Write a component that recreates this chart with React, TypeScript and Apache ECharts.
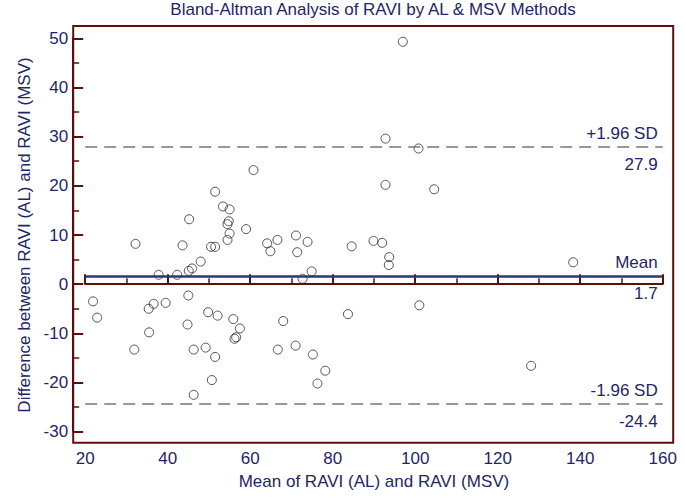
import React, { useEffect, useRef } from "react";
import * as echarts from "echarts";

// Mean of RAVI (AL) and RAVI (MSV)
const meanValues = [
  21.9, 22.9, 31.9, 32.2, 35.4, 35.5, 36.6, 37.8, 39.5, 42.3,
  43.6, 44.8, 45.0, 45.1, 45.2, 45.9, 46.3, 46.3, 48.0, 49.2,
  49.8, 50.5, 50.7, 51.5, 51.5, 51.5, 52.1, 53.4, 54.5, 54.5,
  54.8, 55.0, 55.0, 55.9, 56.2, 56.6, 57.5, 59.0, 60.8, 64.1,
  64.9, 66.6, 66.7, 68.0, 71.0, 71.1, 71.4, 72.7, 73.9, 74.9,
  75.2, 76.3, 78.2, 83.7, 84.6, 89.9, 92.0, 92.8, 92.8, 93.6,
  93.7, 97.0, 100.8, 101.0, 104.6, 128.1, 138.3,
];
// Difference between RAVI (AL) and RAVI (MSV)
const differences = [
  -3.5, -6.8, -13.3, 8.2, -5.0, -9.8, -4.0, 1.9, -3.8, 1.9,
  7.9, -8.2, -2.3, 2.7, 13.2, 3.2, -13.3, -22.5, 4.6, -12.9,
  -5.7, 7.6, -19.5, 7.6, 18.8, -14.8, -6.4, 15.8, 12.2, 9.0,
  12.8, 15.2, 10.3, -7.1, -11.1, -10.8, -9.0, 11.2, 23.2, 8.3,
  6.7, 9.0, -13.3, -7.5, -12.5, 9.9, 6.5, 1.1, 8.6, 2.6,
  -14.3, -20.2, -17.6, -6.1, 7.7, 8.8, 8.4, 29.6, 20.2, 3.9,
  5.5, 49.3, 27.6, -4.3, 19.3, -16.6, 4.45,
];

const meanDiff = 1.7;
const upperLimit = 27.9;
const lowerLimit = -24.4;

const limitLabels = ["+1.96 SD", "Mean", "-1.96 SD"];

const AXIS_COLOR = "#5e0e0e";
const TEXT_COLOR = "#1e2666";
const FONT = "'Liberation Sans', Arial, sans-serif";

export default function App() {
  const ref = useRef<HTMLDivElement>(null);

  useEffect(() => {
    if (!ref.current) return;
    const chart = echarts.init(ref.current, undefined, { renderer: "svg" });

    const points = meanValues.map((m, i) => [m, differences[i]]);

    const labelStyle = {
      color: TEXT_COLOR,
      fontSize: 17,
      fontFamily: FONT,
    };
    const dashStyle = { color: "#857070", width: 1.5, type: [12, 7] as any };
    const meanStyle = { color: "#2e3580", width: 2.5, type: "solid" as any };

    const lineEntries = [
      { value: upperLimit, name: limitLabels[0], style: dashStyle },
      { value: meanDiff, name: limitLabels[1], style: meanStyle },
      { value: lowerLimit, name: limitLabels[2], style: dashStyle },
    ];

    const markData: any[] = [];
    lineEntries.forEach((e) => {
      markData.push({
        yAxis: e.value,
        lineStyle: { ...e.style, color: "rgba(0,0,0,0)" },
        label: { ...labelStyle, position: "insideEndBottom", distance: [5, 9], formatter: String(e.value) },
      });
      markData.push({
        yAxis: e.value,
        lineStyle: e.style,
        label: { ...labelStyle, position: "insideEndTop", distance: [5, 5], formatter: e.name },
      });
    });

    chart.setOption({
      animation: false,
      backgroundColor: "#ffffff",
      textStyle: { fontFamily: FONT },
      title: {
        text: "Bland-Altman Analysis of RAVI by AL & MSV Methods",
        left: 373,
        textAlign: "center",
        top: 1,
        padding: 0,
        textStyle: { color: TEXT_COLOR, fontSize: 17, fontWeight: "normal", fontFamily: FONT },
      },
      grid: { left: 85.2, right: 22.3, top: 38.3, bottom: 72.3, outerBoundsMode: "none" },
      xAxis: {
        type: "value",
        min: 20,
        max: 160,
        interval: 20,
        offset: 11,
        name: "Mean of RAVI (AL) and RAVI (MSV)",
        nameLocation: "middle",
        nameGap: 30,
        nameTextStyle: { color: TEXT_COLOR, fontSize: 17, fontFamily: FONT },
        axisLine: { show: true, lineStyle: { color: AXIS_COLOR, width: 2 } },
        axisTick: { show: true, inside: true, length: 10, lineStyle: { color: AXIS_COLOR, width: 2 } },
        minorTick: { show: true, splitNumber: 2, length: 6, lineStyle: { color: AXIS_COLOR, width: 1.5 } },
        axisLabel: { color: TEXT_COLOR, fontSize: 17, fontFamily: FONT, margin: 7 },
        splitLine: { show: false },
      },
      yAxis: {
        type: "value",
        min: -30,
        max: 50,
        interval: 10,
        offset: 12,
        name: "Difference between RAVI (AL) and RAVI (MSV)",
        nameLocation: "middle",
        nameGap: 40,
        nameTextStyle: { color: TEXT_COLOR, fontSize: 17, fontFamily: FONT },
        axisLine: { show: true, lineStyle: { color: AXIS_COLOR, width: 2 } },
        axisTick: { show: true, inside: true, length: 10, lineStyle: { color: AXIS_COLOR, width: 2 } },
        minorTick: { show: true, splitNumber: 2, length: 6, lineStyle: { color: AXIS_COLOR, width: 1.5 } },
        axisLabel: { color: TEXT_COLOR, fontSize: 17, fontFamily: FONT, margin: 5 },
        splitLine: { show: false },
      },
      graphic: [
        {
          type: "rect",
          silent: true,
          shape: { x: 73.2, y: 26, width: 600, height: 416.7 },
          style: { fill: "none", stroke: AXIS_COLOR, lineWidth: 2 },
          z: 1,
        },
      ],
      series: [
        {
          type: "scatter",
          data: points,
          symbol: "circle",
          symbolSize: 9,
          itemStyle: { color: "rgba(255,255,255,0)", borderColor: "#2a2a2a", borderWidth: 1 },
          markLine: {
            silent: true,
            symbol: ["none", "none"],
            data: markData,
          },
          z: 3,
        },
      ],
    });

    return () => chart.dispose();
  }, []);

  return (
    <div
      ref={ref}
      style={{ position: "fixed", left: 0, top: 0, width: 685, height: 504, background: "#fff" }}
    />
  );
}
